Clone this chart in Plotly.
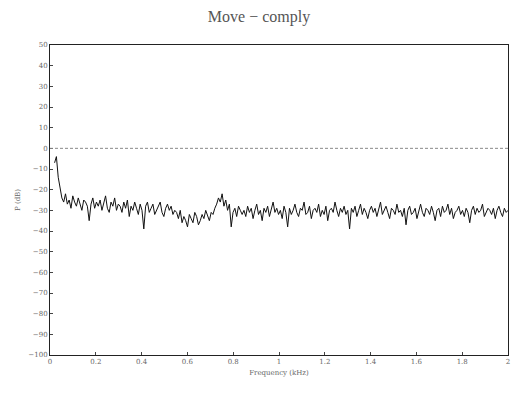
import numpy as np
import plotly.graph_objects as go

# Hand-read trace values (dB) from the reference, evenly spaced over 0.02..2 kHz
power_db = [
    -7, -4, -14, -20, -24, -26,
    -22, -27, -25, -29, -23, -26, -28, -24, -27, -30, -25, -26, -28, -35, -27,
    -24, -29, -26, -28, -25, -30, -27, -23, -29, -31, -26, -28, -24, -30, -27,
    -28, -31, -26, -29, -25, -33, -28, -30, -26, -29, -32, -27, -30, -39, -28,
    -26, -31, -29, -27, -32, -30, -28, -26, -31, -33, -29, -27, -30, -28, -32, -30,
    -31, -34, -30, -36, -33, -35, -38, -32, -34, -36, -31, -33, -37, -35, -32,
    -34, -30, -33, -35, -31, -32,
    -29, -27, -24, -26, -22, -28, -25, -30, -27, -38, -31, -29, -33, -28, -30, -32,
    -30, -33, -28, -31, -29, -34, -30, -27, -32, -30,
    -35, -29, -31, -28, -33, -30, -26, -31, -29, -32,
    -30, -34, -28, -31, -38, -29, -32, -30, -27, -31,
    -33, -29, -30, -26, -32, -31, -28, -34, -30, -29,
    -31, -27, -33, -30, -32, -28, -35, -30, -29, -31,
    -26, -30, -33, -29, -31, -28, -32, -30, -39, -29,
    -31, -28, -33, -30, -27, -32, -29, -31, -34, -30,
    -28, -31, -29, -33, -30, -26, -32, -30, -28, -31,
    -34, -29, -30, -32, -27, -31, -30, -33, -29, -37,
    -30, -28, -32, -31, -29, -34, -30, -27, -31, -33,
    -29, -30, -32, -28, -31, -35, -30, -29, -33, -28,
    -31, -30, -27, -32, -29, -34, -31, -30, -28, -32,
    -30, -33, -29, -31, -36, -30, -28, -32, -29, -31,
    -30, -27, -33, -31, -29, -30,
    -32, -29, -34, -30, -28, -31, -33, -29, -31, -30,
]
freq_start, freq_end = 0.02, 2.0
freq_khz = np.linspace(freq_start, freq_end, len(power_db))

x_ticks = [0, 0.2, 0.4, 0.6, 0.8, 1, 1.2, 1.4, 1.6, 1.8, 2]
y_ticks = [50, 40, 30, 20, 10, 0, -10, -20, -30, -40, -50, -60, -70, -80, -90, -100]

fig = go.Figure()
fig.add_trace(go.Scatter(x=freq_khz, y=power_db, mode="lines",
                         line=dict(color="#111111", width=1), showlegend=False))
fig.add_hline(y=0, line=dict(color="#888888", width=1, dash="3px,2px"))

tick_font = dict(family="DejaVu Serif", size=7, color="#666666")
fig.update_layout(
    width=516, height=400,
    margin=dict(l=50, r=6, t=45, b=45),
    paper_bgcolor="white", plot_bgcolor="white",
    title=dict(text="Move − comply", x=259/516, xref="container", xanchor="center",
               y=1 - 16/400, yref="container", yanchor="middle",
               font=dict(family="Liberation Serif", size=16, color="#555555")),
    xaxis=dict(range=[0, 2], tickvals=x_ticks, ticktext=[str(t) for t in x_ticks],
               ticks="inside", ticklen=3,
               showgrid=False, zeroline=False, showline=True, mirror=True,
               linecolor="#222222", linewidth=1, tickfont=tick_font,
               title=dict(text="Frequency (kHz)", standoff=4,
                          font=dict(family="DejaVu Serif", size=7, color="#666666"))),
    yaxis=dict(range=[-100, 50], tickvals=y_ticks, ticks="inside", ticklen=3,
               showgrid=False, zeroline=False, showline=True, mirror=True,
               linecolor="#222222", linewidth=1, tickfont=tick_font,
               title=dict(text="P (dB)", standoff=6,
                          font=dict(family="DejaVu Serif", size=7, color="#666666"))),
)
fig.write_html("out.html", config={"displayModeBar": False},
               post_script="document.body.style.margin='0';document.body.style.overflow='hidden';")
